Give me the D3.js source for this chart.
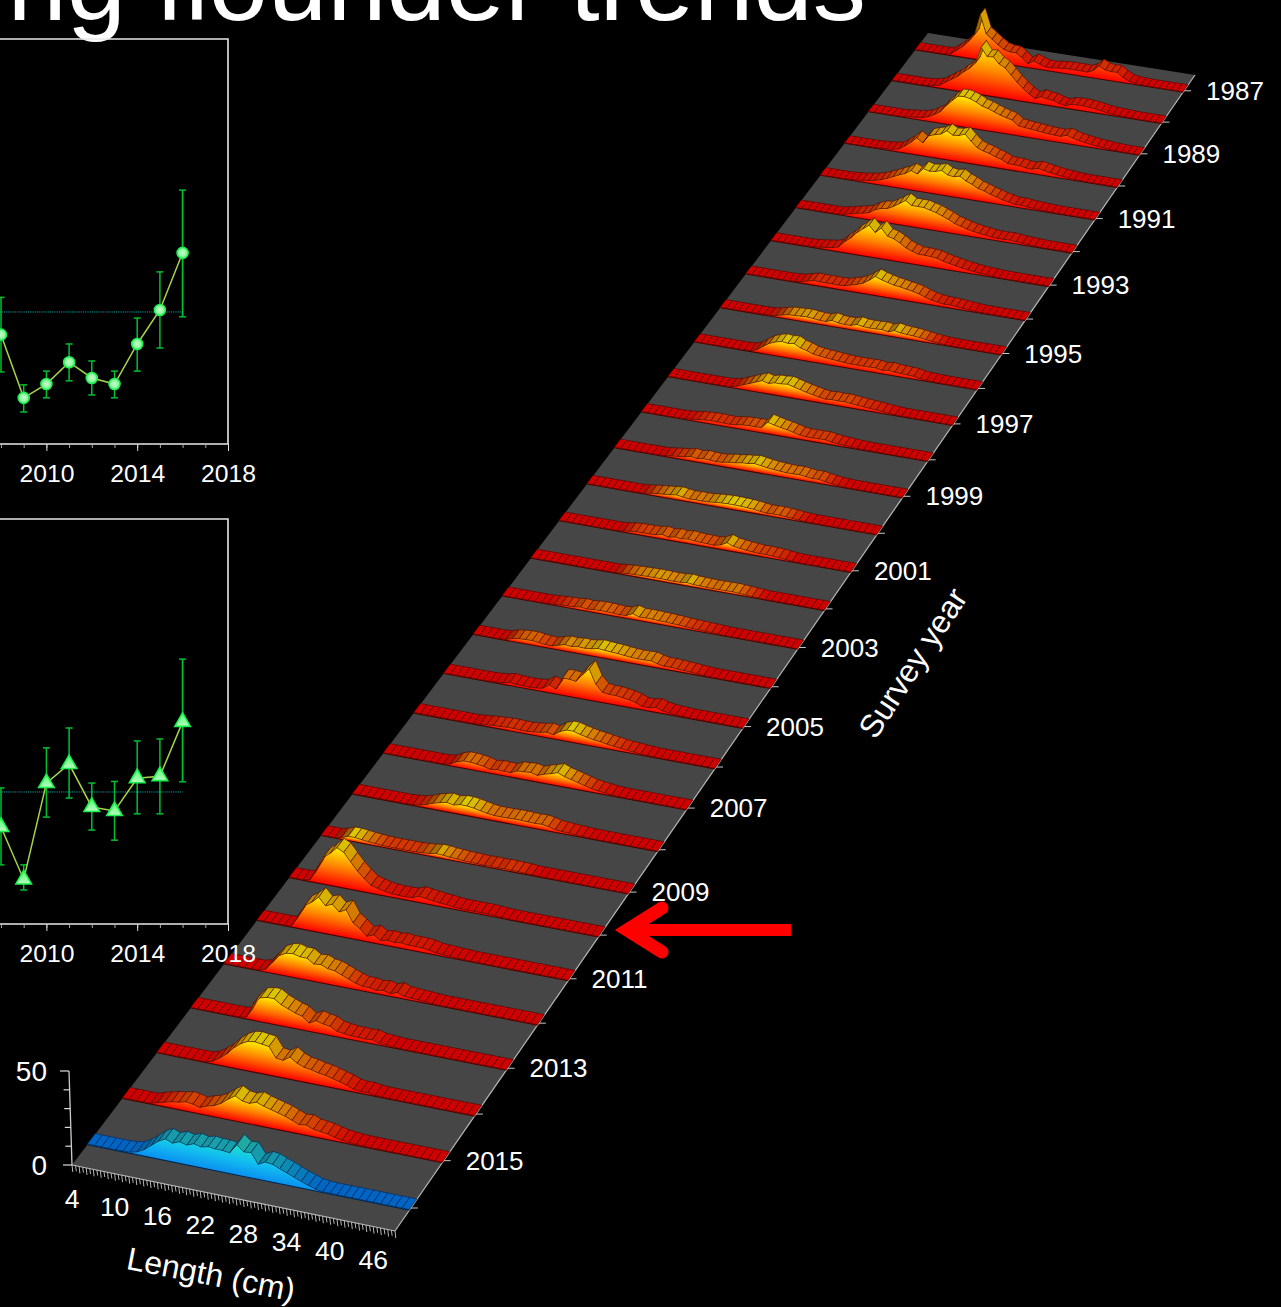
<!DOCTYPE html>
<html><head><meta charset="utf-8">
<script src="https://cdnjs.cloudflare.com/ajax/libs/d3/7.8.5/d3.min.js"></script>
<style>html,body{margin:0;background:#000}svg{display:block}text{font-family:"Liberation Sans",Arial,sans-serif;fill:#fff}</style>
</head><body><svg id="c" width="1281" height="1307"></svg>
<script>
// ---------- data: length-frequency (%) per survey year, lengths 4..49 cm
const lengths = d3.range(4, 50);
const surveyYears = d3.range(1987, 2017);
const lf1987=[.3,.3,.3,.3,.3,.3,1,4,7,11, 16,30,18,15,12,9.5,8.5,8.5,6,2.5, 5,3.5,2.3,2.2,2.8,3.2,3.4,3.4,3.4,3.2, 5,8.5,6.5,6,6.2,3.5,1.5,.8,.5,.3, .3,.3,.3,.3,.3,.3];
const lf1988=[.3,.3,.3,.3,.3,.3,.5,1.2,2,4.5, 7,9.5,13,16,20,31,25.5,26,22,20, 16,12,8.5,5.5,3.2,5,4.2,3.8,2.5,1.6, 3,3.3,3.4,3,2.7,2,1.4,1,.8,.6, .4,.3,.3,.3,.3,.3];
const lf1989=[.3,.3,.3,.3,.3,.3,.5,1,1.4,1.8, 3,5,7.5,12,16,19.5,19.8,19,17.5,15.5, 14.5,13,11.5,10.5,9.5,6.5,6,5.6,5.2,4.8, 4.4,4.2,4,5.4,4.2,3.2,2.5,1.9,1.4,1.1, .8,.5,.3,.3,.3,.3];
const lf1990=[.3,.3,.3,.3,.3,.4,.6,.8,1.2,2, 4.5,7.5,11,8.5,13.7,15,16,18.7,16.5,17, 18.5,14.5,11,9.5,8.5,7,6,4,3.8,3.8, 3,2.8,3.9,3.2,2.5,1.9,1.4,1,.7,.5, .3,.3,.3,.3,.3,.3];
const lf1991=[.3,.3,.3,.3,.3,.5,.8,1.2,1.8,2.5, 3.5,5,6.7,8.5,10,12.5,11,15,14,14.5, 15.7,13.5,13,14,11.5,10,8,7,5.5,4.5, 3.2,2.5,1.6,1.8,1.3,1,.8,.6,.4,.3, .3,.3,.3,.3,.3,.3];
const lf1992=[.3,.3,.3,.3,.3,.3,.3,.3,1,1.8, 2.8,3.5,4.5,7,8.5,9,11,13.5,16,13.5, 13.5,13.5,12.5,11.5,10,8.5,6.5,5.5,4.3,3.5, 2.8,2.4,1.8,1.6,1.6,1.8,1.4,1,.8,.6, .4,.3,.3,.3,.3,.3];
const lf1993=[.3,.3,.3,.3,.3,.3,.3,.5,1,1.5, 2,3,7,10,14,17,20,16,19.5,15, 14,12,9.5,8,6.8,6.8,6.6,6.2,5,4.2, 3.4,2.7,2.2,1.6,1.2,.9,.6,.4,.3,.3, .3,.3,.3,.3,.3,.3];
const lf1994=[.3,.3,.3,.3,.3,.3,.3,.3,.5,1, 2,3,2.8,2.8,2.8,2.7,2.9,4,5,6.5, 9,12,10.5,9.5,8.5,8,7.2,6.6,5.6,4.2, 3,2.4,1.8,1.9,1.6,1.2,.9,.6,.4,.3, .3,.3,.3,.3,.3,.3];
const lf1995=[.3,.3,.3,.3,.3,.3,.3,.3,.5,1, 2,2.8,3,3.2,3.4,3,2.6,2.5,3.8,2.9, 2.6,2.7,3.9,3.2,3,3.1,3.4,2.6,4,3.2, 2.9,2.7,2.3,1.7,1.2,.8,.5,.3,.3,.3, .3,.3,.3,.3,.3,.3];
const lf1996=[.3,.3,.3,.3,.3,.3,.3,.3,.3,.5, 1.8,4.5,7,8.5,9.5,9,9.5,7.5,6.5,5, 4.5,4,3.8,3.4,3,2.8,2.8,2.8,2.9,3, 2.2,2.9,2.4,2.2,2,1.8,1,.7,.5,.3, .3,.3,.3,.3,.3,.3];
const lf1997=[.3,.3,.3,.3,.3,.3,.3,.3,.3,.3, .6,1.5,3,4.5,6,7.5,6.5,7.5,7.5,8, 7,6,5,4.2,3.4,2.8,3.2,3,3.2,2.8, 2.4,2.1,1.8,1.5,1.2,.8,.5,.3,.3,.3, .3,.3,.3,.3,.3,.3];
const lf1998=[.3,.3,.3,.3,.3,.3,.3,.5,.9,1.4, 1.8,2,2,1.9,1.8,2.2,2.8,3,3,3.2, 7,6,5.2,4.5,3.6,2.6,2.2,2.2,2.3,2.4, 1.7,1.3,1,.7,.5,.3,.3,.3,.3,.3, .3,.3,.3,.3,.3,.3];
const lf1999=[.3,.3,.3,.3,.3,.3,.3,.3,.6,1, 1.5,1.8,2.8,2.2,2.8,2.6,2.3,2.6,3.3,3.6, 4.3,4.6,5.2,4.6,4,3.6,3.3,3,3,3.2, 2.7,2.2,2.4,1.7,1.1,.7,.4,.3,.3,.3, .3,.3,.3,.3,.3,.3];
const lf2000=[.3,.3,.3,.3,.3,.3,.3,.3,.3,.6, 1.2,1.6,2,2.3,2.9,2.3,1.8,2,1.9,2.1, 2.5,2.8,3,3,2.9,2.7,2.4,1.9,1.4,1.6, 1.6,1.3,1.1,.7,.5,.3,.3,.3,.3,.3, .3,.3,.3,.3,.3,.3];
const lf2001=[.3,.3,.3,.3,.3,.3,.3,.3,.3,.3, .7,1.3,1.6,1.7,1.7,1.9,2.7,1.8,2.6,2.1, 2.7,2.3,2.1,2,1.8,2.6,4.6,3.2,2.7,2.2, 1.9,1.6,1.7,1.5,1.3,.9,.5,.3,.3,.3, .3,.3,.3,.3,.3,.3];
const lf2002=[.3,.3,.3,.3,.3,.3,.3,.3,.3,.3, .3,.3,.3,.4,.8,1.1,1.3,1.4,1.5,1.6, 1.6,1.5,1.4,1.5,2,1.6,1.4,1.3,1.2,1.3, 1.3,1.4,1.2,.9,.7,.5,.3,.3,.3,.3, .3,.3,.3,.3,.3,.3];
const lf2003=[.3,.3,.3,.3,.3,.3,.3,.4,.6,.9, 1.1,1.2,1.8,1.3,1.7,1.9,1.8,1.7,1.4,1.7, 3.4,2.2,2.3,2.3,2.1,2,1.8,1.6,1.3,1.1, 1,.8,.7,.5,.3,.3,.3,.3,.3,.3, .3,.3,.3,.3,.3,.3];
const lf2004=[.3,.3,.3,.3,.3,.6,1.8,2.4,2.6,2.7, 2.2,1.8,1.6,2.8,3.8,3.4,4,3.8,4.2,5, 4.7,4.4,4.2,3.8,3.4,3.2,3.3,3.5,2.4,1.7, 1.8,1.5,1.3,1.1,.8,.5,.3,.3,.3,.3, .3,.3,.3,.3,.3,.3];
const lf2005=[.3,.3,.3,.3,.3,.3,.3,.3,.6,1, 1.8,1.4,1.3,1.2,1.4,2,4.6,2.9,10,10, 9.5,14,18,10,6,5.5,5.5,5,4.5,3.5, 2,2,2.8,1.6,1,.7,.5,.3,.3,.3, .3,.3,.3,.3,.3,.3];
const lf2006=[.3,.3,.3,.3,.3,.3,.3,.3,.3,.3, .6,1,1.4,1.5,1.8,1.8,1.6,1.6,1.9,2.4, 3.2,2.4,5,6.5,6.5,5.4,4.6,3.8,3.4,2.7, 2.2,1.7,1.3,1,.7,.5,.3,.3,.3,.3, .3,.3,.3,.3,.3,.3];
const lf2007=[.3,.3,.3,.3,.3,.3,.3,.3,.3,.3, 1,3,4.2,4.2,3.8,3.2,2.2,2.8,2.6,2.5, 4.2,4.4,4.8,3.8,5.2,6.2,7.5,6,5,4, 3,2,1.4,1,.6,.4,.3,.3,.3,.3, .3,.3,.3,.3,.3,.3];
const lf2008=[.3,.3,.3,.3,.3,.3,.3,.3,.3,.6, 1,2,3.5,4.5,5.4,4.6,5.5,5.5,5,4.2, 3.5,3,3,3,3.2,3.2,3,2.9,3.1,2.5, 1.5,1.2,1,.7,.6,.4,.3,.3,.3,.3, .3,.3,.3,.3,.3,.3];
const lf2009=[.3,.3,.3,1,2.5,2.5,2,1.6,1.3,1, .9,.9,.9,.9,.9,1.2,1.5,2.2,2,1.6, 1.4,1.1,1,.8,.7,.9,.7,.9,.8,.8, .6,.4,.3,.3,.3,.3,.3,.3,.3,.3, .3,.3,.3,.3,.3,.3];
const lf2010=[.3,.3,.3,1,8,15,18,21.8,20,15.5, 11,7.5,4.5,3.5,2.5,2,1.8,1.8,2,3.5, 3,2.5,2,1.8,1.3,1,1,1,1,1, .8,.5,.3,.3,.3,.3,.3,.3,.3,.3, .3,.3,.3,.3,.3,.3];
const lf2011=[.3,.3,.3,.3,.3,.5,7,13.5,16,19.5, 15.5,17,13.5,15.5,9,6.5,3,4.5,2.2,3, 2.5,3,2.5,2.5,2.5,2,1.2,1,.8,.6, .5,.3,.3,.3,.3,.3,.3,.3,.3,.3, .3,.3,.3,.3,.3,.3];
const lf2012=[.3,.3,.3,.3,.3,.3,1.5,6,10.5,12.5, 13,12,12,9.5,10,8.5,8,6.5,5,3.5, 2.5,2.5,1.8,2.5,1.5,2.8,1.5,1.2,1,.8, .5,.3,.3,.3,.3,.3,.3,.3,.3,.3, .3,.3,.3,.3,.3,.3];
const lf2013=[.3,.3,.3,.3,.3,.3,.3,.3,1,9, 13,14,14,11.5,10,8.5,7.5,4.5,6.5,5.5, 5,3,2.5,2,2,1.8,2.2,1,.8,.5, .3,.3,.3,.3,.3,.3,.3,.3,.3,.3, .3,.3,.3,.3,.3,.3];
const lf2014=[.3,.3,.3,.3,.3,.3,.3,.3,1.5,4, 7,11,14,16,16.5,16,15.5,10,9.5,12, 9.5,8,7.5,6.5,6,5,4,3,1.5,1, 1.2,.5,.3,.3,.3,.3,.3,.3,.3,.3, .3,.3,.3,.3,.3,.3];
const lf2015=[.3,.3,.3,.3,.3,1.5,2.5,3.5,4,5, 4.5,3.5,5,6,8,11,13.5,11.5,11,12.4, 11,10,9,8,6.5,5,5.5,4,3.5,3, 2,1.2,.8,.5,.3,.3,.3,.3,.3,.3, .3,.3,.3,.3,.3,.3];
const lf2016=[.3,.3,.3,.3,.3,.4,.6,1.5,3.5,6.5, 9.5,11.5,10,11.5,10.5,12,11,12,11.5,11.5, 11,16,13,13.5,8,10,9.5,8,6.5,5, 3.5,2.2,1,.5,.3,.3,.3,.3,.3,.3, .3,.3,.3,.3,.3,.3];
const rows=[lf1987,lf1988,lf1989,lf1990,lf1991,lf1992,lf1993,lf1994,lf1995,lf1996,lf1997,lf1998,lf1999,lf2000,lf2001,lf2002,lf2003,lf2004,lf2005,lf2006,lf2007,lf2008,lf2009,lf2010,lf2011,lf2012,lf2013,lf2014,lf2015,lf2016];
// trend panels (2008-2016), index values
const panelYears=[2008,2009,2010,2011,2012,2013,2014,2015,2016];
const p1Mean=[27,11.4,14.8,20.2,16.3,14.8,24.7,33.1,47.2];
const p1Up=[36.2,14.6,18,24.7,20.5,18,31.1,42.5,62.7];
const p1Lo=[17.8,7.9,11.4,15.6,12.1,11.4,18,23.7,31.4];
const p1Ref=32.6;
const p2Mean=[23.95,11,34.8,39.5,28.9,27.9,36,36.5,49.9];
const p2Up=[33.6,14.6,43.5,48.4,34.8,35.2,45.2,45.7,65.4];
const p2Lo=[14.6,8.4,26.4,31.1,23.2,20.7,27.2,27.2,35.1];
const p2Ref=32.6;
const lengthTicks=[4,10,16,22,28,34,40,46];
const yearLabels=d3.range(1987,2016,2);
const panelLabels=[2010,2014,2018];
const titleText="ng flounder trends";

// ---------- floor projection (unit square -> floor quad)
const Q=[[72,1165],[395,1231],[1195,75],[928,33]];
const [[x0,y0],[x1,y1],[x2,y2],[x3,y3]]=Q;
const dx1=x1-x2,dx2=x3-x2,sx=x0-x1+x2-x3,dy1=y1-y2,dy2=y3-y2,sy=y0-y1+y2-y3;
const det=dx1*dy2-dx2*dy1, hg=(sx*dy2-dx2*sy)/det, hh=(dx1*sy-sx*dy1)/det;
const ax=x1-x0+hg*x1,bx=x3-x0+hh*x3,ay=y1-y0+hg*y1,by=y3-y0+hh*y3;
const zScale=d3.scaleLinear([0,50],[0,94]);
function proj(u,v,z=0){const w=1+hg*u+hh*v;return [(ax*u+bx*v+x0)/w,(ay*u+by*v+y0)/w-zScale(z)/w];}
const lenScale=d3.scaleLinear([4,49],[0,1]);
const yearScale=d3.scaleLinear([2016,1987],[.016,.983]);
const ribbon=.0075, frontShift=.0015;

const svg=d3.select('#c');
const defs=svg.append('defs');
const P=p=>p.map(d=>d.map(n=>+n.toFixed(2)).join(',')).join(' ');

// title
svg.append('text').text(titleText).attr('x',866).attr('y',20).attr('text-anchor','end').attr('font-size',106.5);

function panel(top,bottom,mean,up,lo,ref,tri,gid){
  const g=svg.append('g');
  const x=d3.scaleLinear([2008,2018],[1,228]);
  const y=d3.scaleLinear([0,100],[bottom,top]);
  g.append('path').attr('d',`M-5,${top}H228V${bottom}H-5`).attr('fill','none').attr('stroke','#e8e8e8').attr('stroke-width',1.6);
  const ax1=d3.axisBottom(x).tickValues(d3.range(2008,2019)).tickSize(4).tickFormat('');
  const a1=g.append('g').attr('transform',`translate(0,${bottom})`).call(ax1);
  a1.select('.domain').remove(); a1.selectAll('line').attr('stroke','#aaa');
  const ax2=d3.axisBottom(x).tickValues(panelLabels).tickSize(7).tickPadding(13).tickFormat(d3.format('d'));
  const a2=g.append('g').attr('transform',`translate(0,${bottom})`).call(ax2);
  a2.select('.domain').remove(); a2.selectAll('line').attr('stroke','#ddd');
  a2.selectAll('text').attr('font-size',24.7).attr('font-family','"Liberation Sans",Arial,sans-serif').attr('fill','#fff');
  g.append('line').attr('x1',-5).attr('x2',x(2016)).attr('y1',y(ref)).attr('y2',y(ref)).attr('stroke','#0aa0a0').attr('stroke-width',1).attr('stroke-dasharray','1.2 1');
  panelYears.forEach((yr,i)=>{
    const sw=yr===2016?1.8:1.5;
    g.append('line').attr('x1',x(yr)).attr('x2',x(yr)).attr('y1',y(up[i])).attr('y2',y(lo[i])).attr('stroke','#00c030').attr('stroke-width',sw);
    [up[i],lo[i]].forEach(v=>g.append('line').attr('x1',x(yr)-3.5).attr('x2',x(yr)+3.5).attr('y1',y(v)).attr('y2',y(v)).attr('stroke','#00c030').attr('stroke-width',1.5));
  });
  g.append('path').attr('d',d3.line().x((d,i)=>x(panelYears[i])).y(d=>y(d))(mean)).attr('fill','none').attr('stroke','#a6d34a').attr('stroke-width',1.5);
  const sym=d3.symbol().type(tri?d3.symbolTriangle:d3.symbolCircle).size(tri?105:95);
  mean.forEach((m,i)=>g.append('path').attr('d',sym()).attr('transform',`translate(${x(panelYears[i])},${y(m)})`).attr('fill',`url(#${gid})`).attr('stroke','#19f04d').attr('stroke-width',1.6));
}
const rg=defs.append('radialGradient').attr('id','mk');
rg.append('stop').attr('offset','0').attr('stop-color','#c8ffc8');rg.append('stop').attr('offset','1').attr('stop-color','#78f090');
const lg=defs.append('linearGradient').attr('id','mk2').attr('x1',0).attr('x2',0).attr('y1',0).attr('y2',1);
lg.append('stop').attr('offset','0').attr('stop-color','#50ff70');lg.append('stop').attr('offset','1').attr('stop-color','#b8ffc0');

// floor
svg.append('polygon').attr('points',P(Q)).attr('fill','#464646');
svg.append('line').attr('x1',x0).attr('y1',y0).attr('x2',x1).attr('y2',y1).attr('stroke','#b8b8b8').attr('stroke-width',1.2);
svg.append('line').attr('x1',x1).attr('y1',y1).attr('x2',x2).attr('y2',y2).attr('stroke','#b8b8b8').attr('stroke-width',1.2);
d3.range(4,49.01,.5).forEach(L=>{const p=proj(lenScale(L),0);const big=Number.isInteger(L);
  svg.append('line').attr('x1',p[0]).attr('y1',p[1]).attr('x2',p[0]+.8).attr('y2',p[1]+(big?7:5.5)).attr('stroke','#b8b8b8').attr('stroke-width',1);});
lengthTicks.forEach(L=>{const p=proj(lenScale(L),0);
  svg.append('text').text(L).attr('x',p[0]).attr('y',p[1]+42.5).attr('text-anchor','middle').attr('font-size',26.5);});
svg.append('text').text('Length (cm)').attr('transform','translate(209,1285) rotate(11)').attr('text-anchor','middle').attr('font-size',32);
surveyYears.forEach(yr=>{const p=proj(1,yearScale(yr));
  svg.append('line').attr('x1',p[0]).attr('y1',p[1]).attr('x2',p[0]+7).attr('y2',p[1]).attr('stroke','#c8c8c8').attr('stroke-width',1);});
yearLabels.forEach(yr=>{const p=proj(1,yearScale(yr));
  svg.append('text').text(yr).attr('x',p[0]+22).attr('y',p[1]+9).attr('font-size',26);});
svg.append('text').text('Survey year').attr('transform','translate(922,669) rotate(-57)').attr('text-anchor','middle').attr('font-size',32);
// z axis
svg.append('line').attr('x1',x0).attr('y1',y0).attr('x2',69).attr('y2',y0-zScale(50)).attr('stroke','#ccc').attr('stroke-width',1.3);
zScale.ticks(5).forEach(t=>{const f=t/50, X=x0-3*f, Y=y0-zScale(t), big=t%50===0;
  svg.append('line').attr('x1',X).attr('y1',Y).attr('x2',X-(big?9:6)).attr('y2',Y).attr('stroke','#ddd').attr('stroke-width',1.2);
  if(big) svg.append('text').text(t).attr('x',47).attr('y',Y+10).attr('text-anchor','end').attr('font-size',28);});

// ribbons back to front
const warmFace=['#ff0000','#ff8000','#ffee00'], warmTop=['#cf0000','#d46400','#d8c800'];
const coolFace=['#0a90f0','#12bcf0','#1ce4cc'], coolTop=['#0064c4','#1090b0','#22b0a0'];
rows.forEach((row,r)=>{
  const yr=surveyYears[r], v=yearScale(yr)-frontShift, cool=yr===2016;
  const face=cool?coolFace:warmFace, topC=cool?coolTop:warmTop, edge=cool?'#02254f':'#4a0500';
  const mx=d3.max(row);
  const color=d3.scaleLinear([0,.5,1],topC).clamp(true);
  const L=proj(0,v),R=proj(1,v),m=(R[1]-L[1])/(R[0]-L[0]);
  const base=L[1]-m*L[0], H=zScale(mx)/(1+hh*v);
  const gr=defs.append('linearGradient').attr('id','f'+yr).attr('gradientUnits','userSpaceOnUse')
    .attr('x1',0).attr('x2',0).attr('y1',base).attr('y2',base-H).attr('gradientTransform',`matrix(1,${m},0,1,0,0)`);
  face.forEach((c,i)=>gr.append('stop').attr('offset',i/2).attr('stop-color',c));
  const g=svg.append('g');
  const us=lengths.map(l=>lenScale(l));
  const top=row.map((z,i)=>proj(us[i],v,z));
  g.append('polygon').attr('points',P([...top,R,L])).attr('fill',`url(#f${yr})`);
  g.append('line').attr('x1',L[0]).attr('y1',L[1]).attr('x2',R[0]).attr('y2',R[1]).attr('stroke',edge).attr('stroke-width',1.1);
  for(let i=0;i<row.length-1;i++){
    const a=proj(us[i],v,row[i]),b=proj(us[i+1],v,row[i+1]),c=proj(us[i+1],v+ribbon,row[i+1]),d=proj(us[i],v+ribbon,row[i]);
    const t=((row[i]+row[i+1])/2-.3)/(mx-.3);
    let col=d3.color(color(t));
    const slope=(row[i+1]-row[i]);
    if(slope>0) col=col.darker(Math.min(.9,slope/mx*2.5));
    g.append('polygon').attr('points',P([a,b,c,d])).attr('fill',col.formatHex()).attr('stroke',edge).attr('stroke-width',.6).attr('stroke-linejoin','round');
  }
});

// trend panels lie above the floor
panel(39,444,p1Mean,p1Up,p1Lo,p1Ref,false,'mk');
panel(519,924,p2Mean,p2Up,p2Lo,p2Ref,true,'mk2');

// red arrow
const arrowY=930;
svg.append('line').attr('x1',640).attr('x2',791).attr('y1',arrowY).attr('y2',arrowY).attr('stroke','#f00').attr('stroke-width',12);
svg.append('polyline').attr('points',P([[662,908],[627,arrowY],[662,952]])).attr('fill','none').attr('stroke','#f00').attr('stroke-width',13).attr('stroke-linecap','round').attr('stroke-linejoin','miter').attr('stroke-miterlimit',6);
</script></body></html>
